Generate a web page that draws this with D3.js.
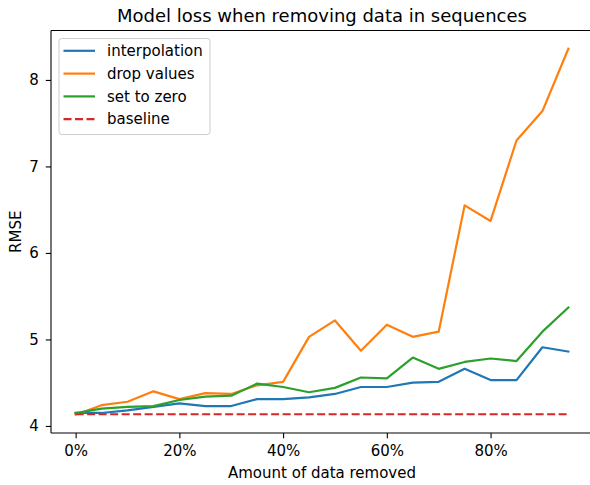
<!DOCTYPE html>
<html>
<head>
  <meta charset="utf-8">
  <title>Model loss when removing data in sequences</title>
  <style>
    body { margin: 0; background: #fff; }
    text { font-family: "DejaVu Sans", sans-serif; fill: #000; }
  </style>
</head>
<body>
  <script src="https://d3js.org/d3.v7.min.js"></script>
  <script>
  // percent of data removed
  const removed = [0, 5, 10, 15, 20, 25, 30, 35, 40, 45, 50, 55, 60, 65, 70, 75, 80, 85, 90, 95];

  const interpolation = [4.15, 4.15, 4.18, 4.22, 4.26, 4.23, 4.23, 4.31, 4.31, 4.33, 4.37, 4.45, 4.45, 4.50, 4.51, 4.66, 4.53, 4.53, 4.91, 4.86];
  const dropValues   = [4.13, 4.24, 4.28, 4.40, 4.31, 4.38, 4.37, 4.47, 4.51, 5.03, 5.22, 4.87, 5.17, 5.03, 5.09, 6.55, 6.37, 7.30, 7.64, 8.36];
  const setToZero    = [4.15, 4.20, 4.22, 4.23, 4.30, 4.34, 4.35, 4.49, 4.45, 4.39, 4.44, 4.56, 4.55, 4.79, 4.66, 4.74, 4.78, 4.75, 5.09, 5.37];
  const baseline     = 4.135;

  const xTicks = [0, 20, 40, 60, 80];
  const yTicks = [4, 5, 6, 7, 8];

  const series = [
    { name: "interpolation", values: interpolation, color: "#1f77b4", dash: null },
    { name: "drop values", values: dropValues, color: "#ff7f0e", dash: null },
    { name: "set to zero", values: setToZero, color: "#2ca02c", dash: null },
    { name: "baseline", values: removed.map(() => baseline), color: "#d62728", dash: "8,3.5" }
  ];

  const W = 590, H = 485;
  const margin = { left: 51, right: -3, top: 30.5, bottom: 52 };

  const svg = d3.select("body").append("svg")
    .attr("width", W)
    .attr("height", H);

  // matplotlib style 5% margins
  const xExt = d3.extent(removed);
  const xPad = (xExt[1] - xExt[0]) * 0.05;
  const allY = series.flatMap(s => s.values);
  const yExt = d3.extent(allY);
  const yPad = (yExt[1] - yExt[0]) * 0.05;

  const x = d3.scaleLinear()
    .domain([xExt[0] - xPad, xExt[1] + xPad])
    .range([margin.left, W - margin.right]);
  const y = d3.scaleLinear()
    .domain([yExt[0] - yPad, yExt[1] + yPad])
    .range([H - margin.bottom, margin.top]);

  const line = d3.line()
    .x((d, i) => x(removed[i]))
    .y(d => y(d));

  svg.append("g")
    .selectAll("path")
    .data(series)
    .enter()
    .append("path")
    .attr("d", d => line(d.values))
    .attr("fill", "none")
    .attr("stroke", d => d.color)
    .attr("stroke-width", 2.2)
    .attr("stroke-dasharray", d => d.dash)
    .attr("stroke-linecap", d => d.dash ? "butt" : "square")
    .attr("stroke-linejoin", "round");

  // axes
  const xAxis = svg.append("g")
    .attr("transform", `translate(0,${H - margin.bottom})`)
    .call(d3.axisBottom(x).tickValues(xTicks).tickFormat(d => d + "%").tickSizeOuter(0).tickSize(5.2).tickPadding(7));
  const yAxis = svg.append("g")
    .attr("transform", `translate(${margin.left},0)`)
    .call(d3.axisLeft(y).tickValues(yTicks).tickFormat(d3.format("d")).tickSizeOuter(0).tickSize(5.2).tickPadding(7));

  [xAxis, yAxis].forEach(a => {
    a.select(".domain").remove();
    a.selectAll("line").attr("stroke", "#000").attr("stroke-width", 1.1);
    a.selectAll("text").style("font-size", "15px").attr("fill", "#000");
  });

  // spines
  const spine = svg.append("g").attr("stroke", "#000").attr("stroke-width", 1.1);
  spine.append("line").attr("x1", margin.left).attr("x2", margin.left)
    .attr("y1", margin.top).attr("y2", H - margin.bottom);
  spine.append("line").attr("x1", margin.left).attr("x2", W - margin.right)
    .attr("y1", H - margin.bottom).attr("y2", H - margin.bottom);
  spine.append("line").attr("x1", margin.left).attr("x2", W - margin.right)
    .attr("y1", margin.top).attr("y2", margin.top);

  // labels
  const cx = (margin.left + W - margin.right) / 2;
  svg.append("text")
    .attr("x", cx).attr("y", 21.5)
    .attr("text-anchor", "middle")
    .style("font-size", "18px")
    .text("Model loss when removing data in sequences");
  svg.append("text")
    .attr("x", cx).attr("y", 477.5)
    .attr("text-anchor", "middle")
    .style("font-size", "15px")
    .text("Amount of data removed");
  svg.append("text")
    .attr("transform", `translate(20.5,${(margin.top + H - margin.bottom) / 2}) rotate(-90)`)
    .attr("text-anchor", "middle")
    .style("font-size", "15px")
    .text("RMSE");

  // legend
  const legend = svg.append("g").attr("transform", "translate(59,38.5)");
  legend.append("rect")
    .attr("width", 151).attr("height", 96)
    .attr("rx", 2.8)
    .attr("fill", "#fff").attr("fill-opacity", 0.8)
    .attr("stroke", "#cccccc").attr("stroke-width", 1);
  const item = legend.selectAll("g.item")
    .data(series)
    .enter()
    .append("g")
    .attr("class", "item")
    .attr("transform", (d, i) => `translate(0,${12.3 + i * 22.8})`);
  item.append("line")
    .attr("x1", 4.5).attr("x2", 36)
    .attr("stroke", d => d.color)
    .attr("stroke-width", 2.2)
    .attr("stroke-dasharray", d => d.dash);
  item.append("text")
    .attr("x", 48).attr("dy", "0.35em")
    .style("font-size", "15px")
    .text(d => d.name);
  </script>
</body>
</html>
